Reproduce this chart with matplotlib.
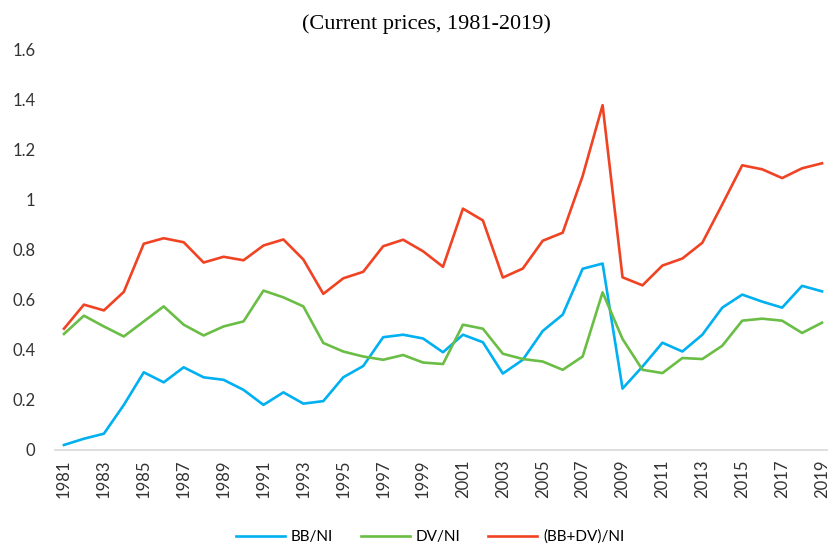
import matplotlib
matplotlib.use("Agg")
from matplotlib import pyplot as plt

years = list(range(1981, 2020))

bb_ni = [0.02, 0.045, 0.065, 0.18, 0.31, 0.27, 0.33, 0.29, 0.28, 0.24,
         0.18, 0.23, 0.185, 0.195, 0.29, 0.335, 0.45, 0.46, 0.445, 0.39,
         0.46, 0.43, 0.305, 0.36, 0.475, 0.54, 0.723, 0.744, 0.245, 0.333,
         0.428, 0.393, 0.46, 0.568, 0.62, 0.592, 0.568, 0.655, 0.633]

dv_ni = [0.463, 0.536, 0.493, 0.453, 0.513, 0.573, 0.50, 0.457, 0.493, 0.513,
         0.636, 0.609, 0.573, 0.427, 0.393, 0.373, 0.36, 0.379, 0.349, 0.343,
         0.50, 0.484, 0.384, 0.363, 0.353, 0.32, 0.373, 0.629, 0.443, 0.32,
         0.307, 0.367, 0.363, 0.416, 0.516, 0.524, 0.516, 0.467, 0.508]

total_ni = [0.484, 0.58, 0.557, 0.631, 0.823, 0.845, 0.829, 0.748, 0.771, 0.757,
            0.816, 0.84, 0.76, 0.623, 0.685, 0.711, 0.813, 0.839, 0.793, 0.731,
            0.963, 0.916, 0.688, 0.724, 0.835, 0.867, 1.093, 1.376, 0.689, 0.657,
            0.736, 0.764, 0.827, 0.98, 1.136, 1.12, 1.085, 1.124, 1.144]

yticks = [0, 0.2, 0.4, 0.6, 0.8, 1, 1.2, 1.4, 1.6]
ytick_labels = ["0", "0.2", "0.4", "0.6", "0.8", "1", "1.2", "1.4", "1.6"]

fig = plt.figure(figsize=(8.29, 5.48), dpi=100)
ax = fig.add_axes([55 / 829, 98 / 548, 774 / 829, 401 / 548])

ax.plot(years, bb_ni, color="#00B0F0", lw=1.9, label="BB/NI")
ax.plot(years, dv_ni, color="#6ABD45", lw=1.9, label="DV/NI")
ax.plot(years, total_ni, color="#F04323", lw=1.9, label="(BB+DV)/NI")

ax.set_xlim(1980.55, 2019.35)
ax.set_ylim(0, 1.6)
ax.set_yticks(yticks)
ax.set_yticklabels(ytick_labels, fontsize=12, family="Lato", color="#333333")
ax.set_xticks(years[::2])
ax.set_xticklabels([str(y) for y in years[::2]], rotation=90, fontsize=12,
                   family="Lato", color="#333333")
ax.tick_params(axis="y", length=0, pad=14)
ax.tick_params(axis="x", length=0, pad=7)

for s in ["top", "right", "left"]:
    ax.spines[s].set_visible(False)
ax.spines["bottom"].set_color("#D9D9D9")
ax.spines["bottom"].set_linewidth(1.2)

fig.text(426 / 829, 1 - 24 / 548, "(Current prices, 1981-2019)", ha="center",
         va="center", fontsize=16, family="Liberation Serif")

fig.legend(loc="center", bbox_to_anchor=(430 / 829, 1 - 537 / 548), ncol=3,
           frameon=False, prop={"family": "Lato", "size": 11},
           handlelength=3.2, columnspacing=1.8, handletextpad=0.4)

fig.savefig("out.png", dpi=100)
